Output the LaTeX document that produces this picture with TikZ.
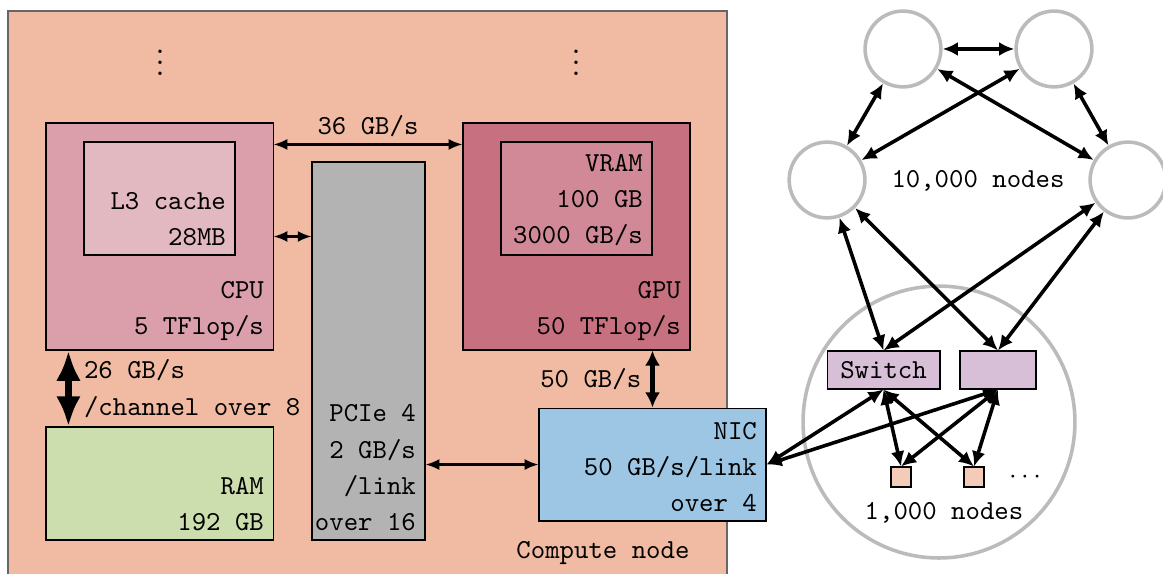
\documentclass[tikz,border=0pt]{standalone}
\usetikzlibrary{arrows.meta,positioning}

\definecolor{nodebg}{RGB}{240,187,162}
\definecolor{cpucol}{RGB}{218,159,171}
\definecolor{cachecol}{RGB}{226,184,193}
\definecolor{gpucol}{RGB}{199,112,128}
\definecolor{vramcol}{RGB}{209,137,151}
\definecolor{pciecol}{RGB}{179,179,179}
\definecolor{ramcol}{RGB}{204,222,173}
\definecolor{niccol}{RGB}{156,198,228}
\definecolor{switchcol}{RGB}{216,191,216}
\definecolor{peercol}{RGB}{244,203,184}
\definecolor{ringcol}{RGB}{187,187,187}

\begin{document}
\begin{tikzpicture}[
every node/.style={font=\ttfamily},
box/.style args={#1/#2/#3}{draw, fill=#1, minimum width=#2cm, minimum height=#3cm, inner sep=0pt},
txt/.style={anchor=south east, align=right, font=\ttfamily\linespread{1.1}\selectfont},
link/.style={{Latex[length=5pt,width=4pt]}-{Latex[length=5pt,width=4pt]}, line width=0.8pt},
wlink/.style={{Latex[length=5.5pt,width=5pt]}-{Latex[length=5.5pt,width=5pt]}, line width=1.3pt},
ring/.style={circle, draw=ringcol, line width=1.3pt, minimum size=#1cm, inner sep=0pt}
]
\useasboundingbox (0,0) rectangle (14.886,-7.347);

% compute node
\node[box=nodebg/9.203/7.411, draw=black!60] (cn) at (4.704,-3.846) {};
\node (dotsa) at (2.048,-0.704) {$\vdots$};
\node (dotsb) at (7.373,-0.704) {$\vdots$};
\node (cnlabel) at (7.718,-7.078) {Compute node};

\node[box=cpucol/2.906/2.906] (cpu) at (2.042,-3.027) {};
\node[box=cachecol/1.933/1.446] (l3) at (2.042,-2.541) {};
\node[box=gpucol/2.906/2.906] (gpu) at (7.379,-3.027) {};
\node[box=vramcol/1.933/1.446] (vram) at (7.379,-2.541) {};
\node[box=pciecol/1.446/4.838] (pcie) at (4.717,-4.493) {};
\node[box=ramcol/2.906/1.446] (ram) at (2.042,-6.189) {};
\node[box=niccol/2.906/1.446] (nic) at (8.352,-5.946) {};

\node[txt] (cputxt) at (cpu.south east) {CPU\\5 TFlop/s};
\node[txt] (l3txt) at (l3.south east) {L3 cache\\28MB};
\node[txt] (gputxt) at (gpu.south east) {GPU\\50 TFlop/s};
\node[txt] (vramtxt) at (vram.south east) {VRAM\\100 GB\\3000 GB/s};
\node[txt] (pcietxt) at (pcie.south east) {PCIe 4\\2 GB/s\\/link\\over 16};
\node[txt] (ramtxt) at (ram.south east) {RAM\\192 GB};
\node[txt] (nictxt) at (nic.south east) {NIC\\50 GB/s/link\\over 4};

\draw[link] ([yshift=-0.282cm]cpu.north east) -- node[above=-1pt] (bwcg) {36 GB/s} ([yshift=-0.282cm]gpu.north west);
\draw[link] (cpu.east) -- (cpu.east -| pcie.west);
\draw[link] (nic.west) -- (nic.west -| pcie.east);
\draw[{Latex[length=11pt,width=9pt]}-{Latex[length=11pt,width=9pt]}, line width=2.7pt]
  ([xshift=0.294cm]cpu.south west) -- node[right=1pt, txt, anchor=west, align=left] (bwram) {26 GB/s\\/channel over 8} ([xshift=0.294cm]ram.north west);
\draw[{Latex[length=5.5pt,width=5.5pt]}-{Latex[length=5.5pt,width=5.5pt]}, line width=1.6pt]
  (nic.north) -- node[left] (bwnic) {50 GB/s} (nic.north |- gpu.south);

% cluster
\node[ring=0.97] (ca) at (11.558,-0.627) {};
\node[ring=0.97] (cb) at (13.491,-0.627) {};
\node[ring=0.97] (cc) at (10.586,-2.304) {};
\node[ring=0.97] (cd) at (14.438,-2.304) {};
\node (bignet) at (12.518,-2.317) {10,000 nodes};
\node[ring=3.48] (clus) at (12.019,-5.402) {};
\node[box=switchcol/1.446/0.486] (swa) at (11.309,-4.736) {Switch};
\node[box=switchcol/0.973/0.486] (swb) at (12.774,-4.736) {};
\node[box=peercol/0.256/0.256] (pa) at (11.533,-6.106) {};
\node[box=peercol/0.256/0.256] (pb) at (12.467,-6.106) {};
\node (more) at (13.12,-6.106) {$\cdots$};
\node (smallnet) at (12.083,-6.566) {1,000 nodes};

\foreach \a/\b in {ca/cb, ca/cc, cb/cd, ca/cd, cb/cc,%
                   cc/swa.north, cc/swb.north, cd/swa.north, cd/swb.north,%
                   swa.south/pa.north, swa.south/pb.north, swb.south/pa.north, swb.south/pb.north,%
                   nic.east/swa.south, nic.east/swb.south%
            }
    \draw[wlink] (\a) -- (\b);
\end{tikzpicture}
\end{document}
